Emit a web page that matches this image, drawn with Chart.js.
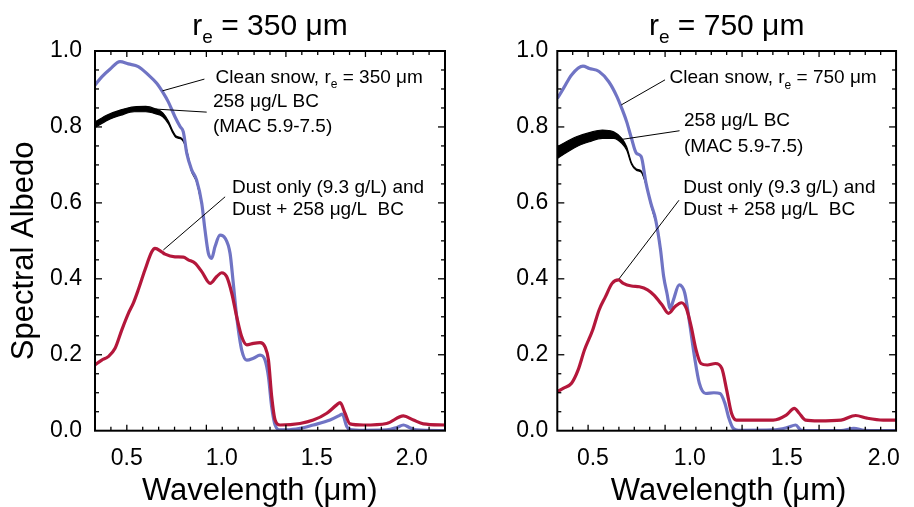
<!DOCTYPE html>
<html>
<head>
<meta charset="utf-8">
<script src="https://cdn.jsdelivr.net/npm/chart.js@4.4.1/dist/chart.umd.min.js"></script>
<style>
  html, body { margin: 0; padding: 0; background: #fff; }
  #wrap { position: relative; width: 914px; height: 507px; }
  canvas { position: absolute; top: 0; }
  #chartLeft { left: 0; }
  #chartRight { left: 457px; }
</style>
</head>
<body>
<div id="wrap">
  <canvas id="chartLeft" width="457" height="507"></canvas>
  <canvas id="chartRight" width="457" height="507"></canvas>
</div>
<script>
// ---- data, left panel (r_e = 350 um) ----
var leftSnowWl = [0.333,0.369,0.412,0.465,0.509,0.561,0.614,0.658,0.693,0.719,0.754,0.781,0.798,0.816,0.842,0.868,0.895,0.912,0.930,0.947,0.965,0.991,1.018,1.044,1.061,1.079,1.105,1.132,1.167,1.202,1.228,1.246,1.263,1.281,1.307,1.342,1.412,1.482,1.570,1.623,1.634,1.658,1.675,1.746,1.868,1.920,1.956,1.990,2.026,2.175];
var leftSnowAlb = [0.910,0.932,0.952,0.972,0.966,0.959,0.937,0.915,0.889,0.866,0.827,0.801,0.787,0.731,0.687,0.660,0.599,0.529,0.467,0.454,0.485,0.515,0.507,0.467,0.388,0.300,0.213,0.186,0.191,0.199,0.186,0.142,0.063,0.015,0.002,0.002,0.006,0.015,0.028,0.041,0.044,0.011,0.003,0.001,0.002,0.008,0.015,0.008,0.002,0.000];

var leftDustWl = [0.333,0.369,0.403,0.439,0.474,0.509,0.535,0.561,0.596,0.632,0.649,0.684,0.702,0.754,0.798,0.824,0.860,0.895,0.939,0.974,1.000,1.026,1.053,1.079,1.105,1.132,1.167,1.202,1.228,1.246,1.263,1.281,1.307,1.412,1.482,1.553,1.605,1.623,1.649,1.675,1.746,1.868,1.956,2.009,2.061,2.175];
var leftDustAlb = [0.173,0.186,0.195,0.217,0.265,0.309,0.336,0.371,0.423,0.471,0.480,0.471,0.465,0.458,0.457,0.450,0.441,0.419,0.388,0.406,0.416,0.406,0.362,0.300,0.248,0.226,0.230,0.232,0.221,0.186,0.090,0.028,0.015,0.019,0.028,0.046,0.068,0.074,0.046,0.018,0.015,0.019,0.039,0.028,0.018,0.015];

var leftBcWl = [0.333,0.40,0.47,0.54,0.60,0.65,0.69,0.72,0.74,0.76,0.79,0.807,0.842,0.868,0.895];
var leftBcHigh = [0.813,0.832,0.845,0.853,0.854,0.848,0.837,0.815,0.792,0.776,0.770,0.755,0.684,0.657,0.597];
var leftBcLow = [0.798,0.818,0.831,0.840,0.840,0.835,0.827,0.808,0.787,0.772,0.767,0.752,0.682,0.655,0.595];

// ---- data, right panel (r_e = 750 um) ----
var rightSnowWl = [0.3165,0.349,0.390,0.449,0.482,0.532,0.582,0.624,0.649,0.674,0.699,0.724,0.749,0.774,0.799,0.824,0.849,0.865,0.882,0.899,0.915,0.945,0.974,0.999,1.024,1.049,1.082,1.124,1.156,1.181,1.199,1.224,1.250,1.430,1.500,1.546,1.572,1.620,1.780,1.846,1.900,2.0635];
var rightSnowAlb = [0.875,0.902,0.937,0.960,0.954,0.946,0.919,0.880,0.849,0.814,0.770,0.731,0.722,0.652,0.599,0.555,0.476,0.406,0.362,0.322,0.344,0.384,0.362,0.283,0.195,0.125,0.098,0.100,0.098,0.072,0.037,0.006,0.001,0.002,0.008,0.015,0.002,0.000,0.000,0.006,0.001,0.000];

var rightDustWl = [0.3165,0.349,0.390,0.424,0.457,0.499,0.532,0.565,0.599,0.632,0.657,0.699,0.740,0.782,0.815,0.857,0.890,0.924,0.957,0.982,1.007,1.032,1.057,1.090,1.132,1.165,1.190,1.215,1.240,1.330,1.430,1.497,1.539,1.564,1.597,1.664,1.780,1.855,1.914,1.997,2.0635];
var rightDustAlb = [0.103,0.112,0.125,0.160,0.213,0.265,0.318,0.353,0.388,0.397,0.388,0.381,0.379,0.371,0.357,0.331,0.309,0.327,0.337,0.322,0.274,0.213,0.177,0.173,0.177,0.164,0.107,0.046,0.028,0.028,0.028,0.041,0.059,0.046,0.028,0.026,0.028,0.040,0.033,0.028,0.028];

var rightBcWl = [0.3165,0.415,0.482,0.549,0.607,0.649,0.674,0.699,0.724,0.749,0.774,0.799,0.824];
var rightBcHigh = [0.748,0.774,0.785,0.792,0.787,0.770,0.748,0.706,0.689,0.684,0.650,0.597,0.553];
var rightBcLow = [0.717,0.748,0.761,0.770,0.770,0.757,0.739,0.702,0.686,0.681,0.648,0.595,0.551];

// axis labels
var xTickLabels = [0.5, 1.0, 1.5, 2.0];
var yTickLabels = [0, 0.2, 0.4, 0.6, 0.8, 1.0];

var FONT = '"Liberation Sans", Arial, Helvetica, sans-serif';
var BLUE = '#7074c4';
var RED = '#b4173b';

function pts(xs, ys) {
    return xs.map(function(x, i) { return { x: x, y: ys[i] }; });
}

function line(ctx, x1, y1, x2, y2) {
    ctx.beginPath();
    ctx.moveTo(x1, y1);
    ctx.lineTo(x2, y2);
    ctx.stroke();
}

// draw text made of pieces (for the subscripts)
function rich(ctx, x, y, parts) {
    parts.forEach(function(p) {
        ctx.font = p[1] + 'px ' + FONT;
        ctx.fillText(p[0], x, y + (p[2] || 0));
        x += ctx.measureText(p[0]).width;
    });
}

function richWidth(ctx, parts) {
    var w = 0;
    parts.forEach(function(p) {
        ctx.font = p[1] + 'px ' + FONT;
        w += ctx.measureText(p[0]).width;
    });
    return w;
}

// frame, inward ticks, titles and notes
function panelPlugin(cfg) {
    return {
        id: 'panel',
        afterDraw: function(chart) {
            var ctx = chart.ctx, a = chart.chartArea;
            var xs = chart.scales.x, ys = chart.scales.y;
            ctx.save();
            ctx.strokeStyle = '#000';
            ctx.fillStyle = '#000';

            ctx.lineWidth = 1.3;
            for (var i = 1; i < 22; i++) {
                var px = xs.getPixelForValue(xs.min + i * (xs.max - xs.min) / 22);
                var len = (i % 5 === 2) ? 6 : 4;
                line(ctx, px, a.bottom, px, a.bottom - len);
                line(ctx, px, a.top, px, a.top + len);
            }
            for (var k = 1; k < 20; k++) {
                var py = ys.getPixelForValue(k * 0.05);
                var ylen = (k % 4 === 0) ? 7 : 4;
                line(ctx, a.left, py, a.left + ylen, py);
                line(ctx, a.right, py, a.right - ylen, py);
            }
            ctx.lineWidth = 2;
            ctx.strokeRect(a.left, a.top, a.right - a.left, a.bottom - a.top);

            // leader lines
            ctx.lineWidth = 1;
            cfg.leaders.forEach(function(l) {
                line(ctx, xs.getPixelForValue(l[0][0]), ys.getPixelForValue(l[0][1]),
                          xs.getPixelForValue(l[1][0]), ys.getPixelForValue(l[1][1]));
            });

            ctx.textBaseline = 'alphabetic';
            ctx.textAlign = 'left';
            cfg.notes.forEach(function(n) {
                rich(ctx, xs.getPixelForValue(n.at[0]), ys.getPixelForValue(n.at[1]), n.parts);
            });

            // panel title
            var cx = (a.left + a.right) / 2;
            var tw = richWidth(ctx, cfg.title);
            rich(ctx, cx - tw / 2, a.top - 16, cfg.title);

            // axis titles
            ctx.font = '31px ' + FONT;
            ctx.textAlign = 'center';
            ctx.fillText('Wavelength (\u03bcm)', xs.getPixelForValue(cfg.xTitleAt), 500);
            if (cfg.yTitle) {
                ctx.translate(33, (a.top + a.bottom) / 2 + 10);
                ctx.rotate(-Math.PI / 2);
                ctx.fillText(cfg.yTitle, 0, 0);
            }
            ctx.restore();
        }
    };
}

function makeChart(id, p) {
    return new Chart(document.getElementById(id), {
        type: 'line',
        data: {
            datasets: [
                { label: 'Dust only (9.3 g/L) and Dust + 258 \u03bcg/L BC', data: pts(p.dustWl, p.dustAlb),
                  borderColor: RED, borderWidth: 3.2, pointRadius: 0, fill: false, cubicInterpolationMode: 'monotone' },
                { label: p.snowLabel, data: pts(p.snowWl, p.snowAlb),
                  borderColor: BLUE, borderWidth: 3.2, pointRadius: 0, fill: false, cubicInterpolationMode: 'monotone' },
                { label: '258 \u03bcg/L BC, MAC 7.5', data: pts(p.bcWl, p.bcLow),
                  borderColor: '#000', borderWidth: 1.2, pointRadius: 0, fill: false, cubicInterpolationMode: 'monotone' },
                { label: '258 \u03bcg/L BC, MAC 5.9', data: pts(p.bcWl, p.bcHigh),
                  borderColor: '#000', borderWidth: 1.2, pointRadius: 0, fill: '-1', backgroundColor: '#000',
                  cubicInterpolationMode: 'monotone' }
            ]
        },
        options: {
            responsive: false,
            animation: false,
            layout: { padding: { left: 0, right: p.padRight, top: 51, bottom: 0 } },
            plugins: { legend: { display: false }, tooltip: { enabled: false }, title: { display: false } },
            scales: {
                x: {
                    type: 'linear',
                    min: p.xMin,
                    max: p.xMax,
                    grid: { display: false, drawTicks: false },
                    border: { display: false },
                    afterBuildTicks: function(s) { s.ticks = xTickLabels.map(function(v) { return { value: v }; }); },
                    afterFit: function(s) { s.height = 76.3; },
                    ticks: {
                        autoSkip: false, maxRotation: 0, padding: 14, color: '#000',
                        font: { family: FONT, size: 23 },
                        callback: function(v) { return v.toFixed(1); }
                    }
                },
                y: {
                    min: 0,
                    max: 1,
                    grid: { display: false, drawTicks: false },
                    border: { display: false },
                    afterBuildTicks: function(s) { s.ticks = yTickLabels.map(function(v) { return { value: v }; }); },
                    afterFit: function(s) { s.width = p.yWidth; },
                    ticks: {
                        padding: p.yPad, color: '#000',
                        font: { family: FONT, size: 23 },
                        callback: function(v) { return v.toFixed(1); }
                    }
                }
            }
        },
        plugins: [panelPlugin(p.panel)]
    });
}

makeChart('chartLeft', {
    snowLabel: 'Clean snow, re = 350 \u03bcm',
    snowWl: leftSnowWl, snowAlb: leftSnowAlb,
    dustWl: leftDustWl, dustAlb: leftDustAlb,
    bcWl: leftBcWl, bcHigh: leftBcHigh, bcLow: leftBcLow,
    xMin: 0.3333, xMax: 2.175, padRight: 12, yWidth: 95, yPad: 13,
    panel: {
        title: [['r', 30], ['e', 19, 8], [' = 350 \u03bcm', 30]],
        xTitleAt: 1.2,
        yTitle: 'Spectral Albedo',
        notes: [
            { at: [0.968, 0.916], parts: [['Clean snow, r', 19], ['e', 12, 5.5], [' = 350 \u03bcm', 19]] },
            { at: [0.954, 0.853], parts: [['258 \u03bcg/L BC', 19]] },
            { at: [0.954, 0.787], parts: [['(MAC 5.9-7.5)', 19]] },
            { at: [1.054, 0.625], parts: [['Dust only (9.3 g/L) and', 19]] },
            { at: [1.054, 0.568], parts: [['Dust + 258 \u03bcg/L  BC', 19]] }
        ],
        leaders: [
            [[0.909, 0.926], [0.688, 0.895]],
            [[0.921, 0.839], [0.588, 0.849]],
            [[1.018, 0.616], [0.693, 0.476]]
        ]
    }
});

makeChart('chartRight', {
    snowLabel: 'Clean snow, re = 750 \u03bcm',
    snowWl: rightSnowWl, snowAlb: rightSnowAlb,
    dustWl: rightDustWl, dustAlb: rightDustAlb,
    bcWl: rightBcWl, bcHigh: rightBcHigh, bcLow: rightBcLow,
    xMin: 0.3165, xMax: 2.0635, padRight: 7.3, yWidth: 100.3, yPad: 9,
    panel: {
        title: [['r', 30], ['e', 19, 8], [' = 750 \u03bcm', 30]],
        xTitleAt: 1.2,
        yTitle: null,
        notes: [
            { at: [0.895, 0.915], parts: [['Clean snow, r', 19], ['e', 12, 5.5], [' = 750 \u03bcm', 19]] },
            { at: [0.970, 0.802], parts: [['258 \u03bcg/L BC', 19]] },
            { at: [0.970, 0.735], parts: [['(MAC 5.9-7.5)', 19]] },
            { at: [0.966, 0.625], parts: [['Dust only (9.3 g/L) and', 19]] },
            { at: [0.966, 0.568], parts: [['Dust + 258 \u03bcg/L  BC', 19]] }
        ],
        leaders: [
            [[0.872, 0.924], [0.6465, 0.858]],
            [[0.947, 0.790], [0.647, 0.767]],
            [[0.944, 0.607], [0.635, 0.400]]
        ]
    }
});
</script>
</body>
</html>
